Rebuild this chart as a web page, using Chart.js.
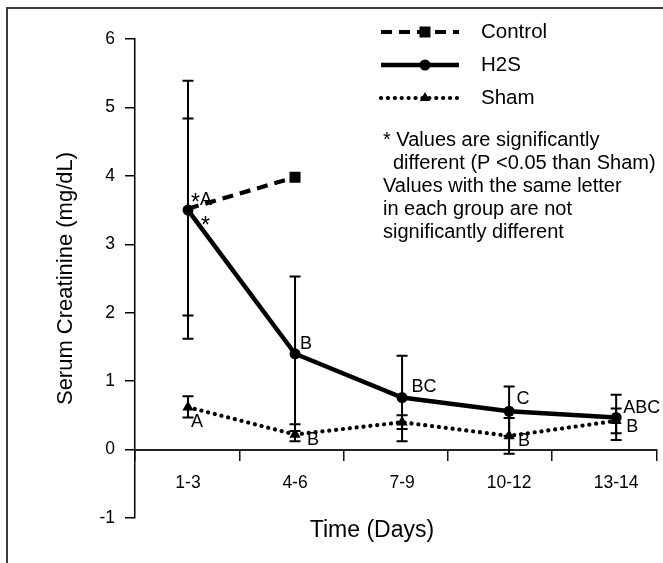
<!DOCTYPE html>
<html><head><meta charset="utf-8">
<script src="https://cdn.jsdelivr.net/npm/chart.js@4/dist/chart.umd.min.js"></script>
<style>
html,body{margin:0;padding:0;background:#fff;overflow:hidden;}
#wrap{position:relative;width:663px;height:563px;overflow:hidden;}
#frame{position:absolute;left:6px;top:7px;width:720px;height:620px;border:2px solid #3a3a3a;}
canvas{position:absolute;left:0;top:0;}
</style></head><body>
<div id="wrap"><div id="frame"></div><canvas id="c" width="663" height="563"></canvas></div>
<script>
// ---- data ----
const categories = ['1-3', '4-6', '7-9', '10-12', '13-14'];
const controlMean = [3.52, 3.98, null, null, null];
const controlHigh = [4.84, null, null, null, null];
const controlLow  = [1.96, null, null, null, null];
const h2sMean = [3.50, 1.40, 0.76, 0.56, 0.47];
const h2sHigh = [5.39, 2.53, 1.37, 0.92, 0.80];
const h2sLow  = [1.62, 0.27, 0.12, 0.20, 0.14];
const shamMean = [0.62, 0.22, 0.40, 0.20, 0.42];
const shamHigh = [0.78, 0.37, 0.50, 0.46, 0.60];
const shamLow  = [0.47, 0.12, 0.30, -0.06, 0.24];
const controlLetters = ['*A', '', '', '', ''];
const h2sLetters = ['*', 'B', 'BC', 'C', 'ABC'];
const shamLetters = ['A', 'B', '', 'B', 'B'];
const seriesNames = ['Control', 'H2S', 'Sham'];
const yTickValues = [-1, 0, 1, 2, 3, 4, 5, 6];
const xTickMarks = [0, 1, 2, 3, 4, 5];
const noteLines = ['* Values are significantly', 'different (P <0.05 than Sham)', 'Values with the same letter', 'in each group are not', 'significantly different'];
const xTitle = 'Time (Days)';
const yTitle = 'Serum Creatinine (mg/dL)';

// ---- styles / layout ----
const FONT = '"Liberation Sans", Arial, Helvetica, sans-serif';
const letterStyle = {
  control: [{dx: 3, dy: -9, align: 'left'}, null, null, null, null],
  h2s: [{dx: 13, dy: 13, align: 'left'}, {dx: 11, dy: -10, align: 'center'}, {dx: 22, dy: -11, align: 'center'}, {dx: 14, dy: -12, align: 'center'}, {dx: 7, dy: -9, align: 'left'}],
  sham: [{dx: 9, dy: 15, align: 'center'}, {dx: 18, dy: 6, align: 'center'}, null, {dx: 15, dy: 5, align: 'center'}, {dx: 16, dy: 6, align: 'center'}]
};
const pts = arr => arr.map((v, i) => ({x: i + 1, y: v}));

function drawLetter(ctx, t, x, y, align) {
  // asterisks drawn larger and lower, as in the original figure
  let parts = [];
  for (const ch of t) parts.push(ch);
  const widths = parts.map(ch => {
    ctx.font = (ch === '*' ? '23px ' : '18px ') + FONT;
    return ctx.measureText(ch).width;
  });
  const total = widths.reduce((a, b) => a + b, 0);
  let cx = align === 'center' ? x - total / 2 : x;
  ctx.textAlign = 'left';
  parts.forEach((ch, k) => {
    ctx.font = (ch === '*' ? '23px ' : '18px ') + FONT;
    ctx.fillText(ch, cx, ch === '*' ? y + 4 : y);
    cx += widths[k];
  });
}

const extras = {
  id: 'extras',
  beforeDatasetsDraw(chart) {
    const ctx = chart.ctx, xs = chart.scales.x, ys = chart.scales.y;
    ctx.save();
    ctx.strokeStyle = '#000';
    ctx.lineWidth = 2;
    const bars = [[h2sHigh, h2sLow], [controlHigh, controlLow], [shamHigh, shamLow]];
    bars.forEach(([hi, lo]) => {
      hi.forEach((h, i) => {
        if (h == null) return;
        const x = xs.getPixelForValue(i + 1);
        const y1 = ys.getPixelForValue(h), y2 = ys.getPixelForValue(lo[i]);
        ctx.beginPath();
        ctx.moveTo(x, y1); ctx.lineTo(x, y2);
        ctx.moveTo(x - 5.5, y1); ctx.lineTo(x + 5.5, y1);
        ctx.moveTo(x - 5.5, y2); ctx.lineTo(x + 5.5, y2);
        ctx.stroke();
      });
    });
    ctx.restore();
  },
  afterDatasetsDraw(chart) {
    const ctx = chart.ctx, xs = chart.scales.x, ys = chart.scales.y;
    ctx.save();
    ctx.fillStyle = '#000';
    // letters
    ctx.textBaseline = 'middle';
    const groups = [[controlLetters, controlMean, letterStyle.control], [h2sLetters, h2sMean, letterStyle.h2s], [shamLetters, shamMean, letterStyle.sham]];
    groups.forEach(([letters, vals, st]) => {
      letters.forEach((t, i) => {
        if (!t || !st[i]) return;
        const x = xs.getPixelForValue(i + 1) + st[i].dx;
        const y = ys.getPixelForValue(vals[i]) + st[i].dy;
        drawLetter(ctx, t, x, y, st[i].align);
      });
    });
    // legend
    const rows = [32, 65, 98];
    const x0 = 381, x1 = 459, xm = 425;
    chart.data.datasets.forEach((ds, k) => {
      const y = rows[k];
      ctx.save();
      ctx.strokeStyle = '#000';
      ctx.lineWidth = ds.borderWidth;
      ctx.lineCap = ds.borderCapStyle || 'butt';
      ctx.setLineDash(ds.borderDash || []);
      ctx.beginPath(); ctx.moveTo(x0, y); ctx.lineTo(x1, y); ctx.stroke();
      ctx.restore();
      ctx.beginPath();
      if (ds.pointStyle === 'circle') {
        ctx.arc(xm, y, 5.5, 0, Math.PI * 2);
      } else if (ds.pointStyle === 'rect') {
        ctx.rect(xm - 5.5, y - 5.5, 11, 11);
      } else {
        ctx.moveTo(xm, y - 6); ctx.lineTo(xm + 5.2, y + 3); ctx.lineTo(xm - 5.2, y + 3); ctx.closePath();
      }
      ctx.fill();
      ctx.font = '20.5px ' + FONT;
      ctx.textAlign = 'left';
      ctx.fillText(seriesNames[k], 481, y);
    });
    // notes
    ctx.font = '20px ' + FONT;
    ctx.textAlign = 'left';
    const noteY = [140, 163, 186, 209, 232];
    const noteX = [383, 393, 383, 383, 383];
    noteLines.forEach((t, i) => ctx.fillText(t, noteX[i], noteY[i]));
    // x title
    ctx.font = '23px ' + FONT;
    ctx.textAlign = 'center';
    ctx.fillText(xTitle, 372, 531);
    ctx.restore();
  }
};

new Chart(document.getElementById('c'), {
  type: 'line',
  data: {
    datasets: [
      {label: seriesNames[0], data: pts(controlMean), borderColor: '#000', backgroundColor: '#000', borderWidth: 4.2, borderDash: [11, 7],
       pointStyle: 'rect', pointRadius: [0, 7.8], pointBorderWidth: 0, pointHoverRadius: 0},
      {label: seriesNames[1], data: pts(h2sMean), borderColor: '#000', backgroundColor: '#000', borderWidth: 4.5,
       pointStyle: 'circle', pointRadius: 5.5, pointBorderWidth: 0},
      {label: seriesNames[2], data: pts(shamMean), borderColor: '#000', backgroundColor: '#000', borderWidth: 4.2, borderDash: [0.1, 6.8], borderCapStyle: 'round',
       pointStyle: 'triangle', pointRadius: 6.5, pointBorderWidth: 0}
    ]
  },
  options: {
    responsive: false, animation: false, devicePixelRatio: 1,
    layout: {padding: {top: 39, right: 2, bottom: 45, left: 0}},
    plugins: {legend: {display: false}, tooltip: {enabled: false}},
    scales: {
      x: {type: 'linear', position: {y: 0}, min: 0.505, max: 5.377,
          afterBuildTicks: s => { s.ticks = categories.map((c, i) => ({value: i + 1})); },
          grid: {display: false, drawTicks: false}, border: {display: false},
          ticks: {padding: 23, color: '#000', autoSkip: false, maxRotation: 0, font: {size: 17.5, family: FONT},
                  callback: v => categories[Math.round(v) - 1] || ''}},
      xt: {type: 'linear', axis: 'x', position: {y: 0}, min: 0, max: 5,
           afterBuildTicks: s => { s.ticks = xTickMarks.map(v => ({value: v})); },
           ticks: {display: false},
           grid: {drawOnChartArea: false, tickLength: 10, color: '#111', lineWidth: 1.5},
           border: {display: true, color: '#222', width: 2}},
      y: {type: 'linear', position: 'left', min: -1, max: 6,
          afterBuildTicks: s => { s.ticks = yTickValues.map(v => ({value: v})); },
          afterFit: s => { s.width = 135; },
          grid: {drawOnChartArea: false, tickLength: 10, color: '#000', lineWidth: 1.5},
          border: {color: '#000', width: 1.5},
          ticks: {padding: 10, color: '#000', font: {size: 17.5, family: FONT}},
          title: {display: true, text: yTitle, color: '#000', font: {size: 22, family: FONT}, padding: {top: 53, bottom: 0}}}
    }
  },
  plugins: [extras]
});
</script>
</body></html>
